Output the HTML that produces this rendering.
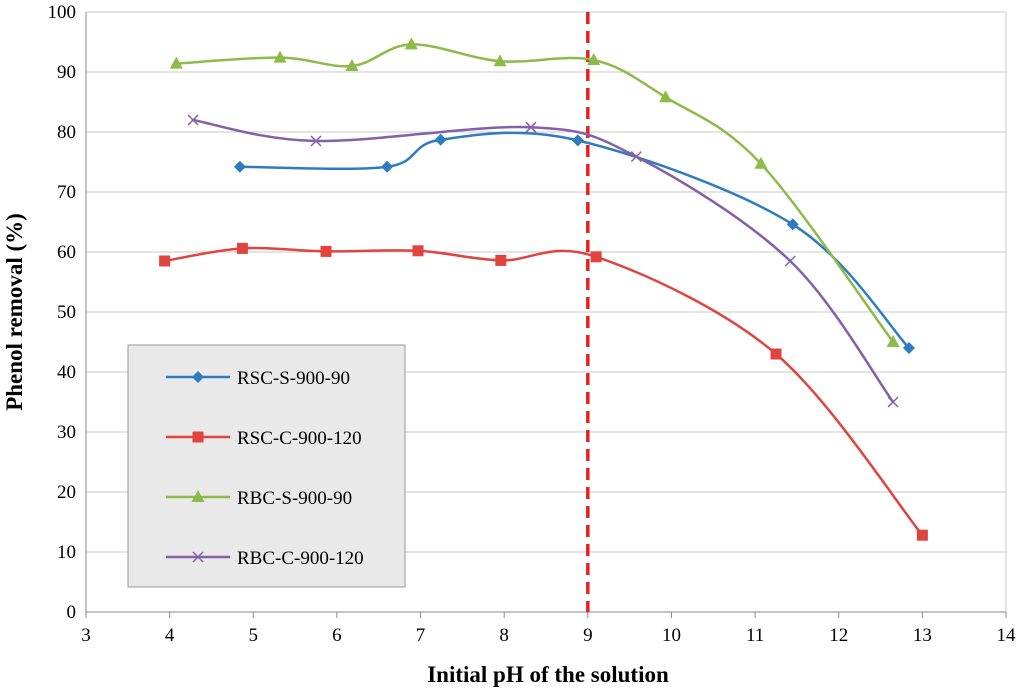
<!DOCTYPE html>
<html><head><meta charset="utf-8"><style>
body{margin:0;background:#fff}
svg text{font-family:"Liberation Serif",serif}
</style></head><body>
<svg id="chart" width="1024" height="692" xmlns="http://www.w3.org/2000/svg"></svg>
<script>
const xTicks=[3,4,5,6,7,8,9,10,11,12,13,14];
const yTicks=[0,10,20,30,40,50,60,70,80,90,100];
const rscSx=[4.84,6.6,7.24,8.88,11.45,12.84];
const rscSy=[74.2,74.2,78.7,78.6,64.6,44];
const rscCx=[3.94,4.87,5.87,6.97,7.96,9.1,11.25,13.0];
const rscCy=[58.5,60.6,60.1,60.2,58.6,59.2,43,12.8];
const rbcSx=[4.08,5.32,6.18,6.89,7.95,9.07,9.93,11.07,12.65];
const rbcSy=[91.4,92.4,91.0,94.6,91.8,92,85.8,74.7,45];
const rbcCx=[4.28,5.75,8.32,9.58,11.42,12.65];
const rbcCy=[82,78.5,80.8,75.9,58.5,35];
const seriesNames=["RSC-S-900-90","RSC-C-900-120","RBC-S-900-90","RBC-C-900-120"];
const NS="http://www.w3.org/2000/svg";
const svg=document.getElementById('chart');
const X0=86,X1=1006,Y0=612,Y1=12;
const sx=v=>X0+(v-3)/11*(X1-X0);
const sy=v=>Y0-v/100*(Y0-Y1);
function mk(t,a,p){const e=document.createElementNS(NS,t);for(const k in a)e.setAttribute(k,a[k]);(p||svg).appendChild(e);return e;}
yTicks.forEach(v=>{
 const l=mk('line',{x1:X0,x2:X1,y1:sy(v),y2:sy(v),stroke:v===0?'#888':'#c8c8c8','stroke-width':1});
 
 
 const t=mk('text',{x:X0-10,y:sy(v)+6,'text-anchor':'end','font-size':19});t.textContent=v;
 
 
});
mk('line',{x1:X0,x2:X0,y1:Y1,y2:Y0,stroke:'#888'});
mk('line',{x1:X1,x2:X1,y1:Y1,y2:Y0,stroke:'#c8c8c8'});
xTicks.forEach(v=>{
 mk('line',{x1:sx(v),x2:sx(v),y1:Y0,y2:Y0+6,stroke:'#888'});
 const t=mk('text',{x:sx(v),y:Y0+29,'text-anchor':'middle','font-size':19});t.textContent=v;
 
 
});
const xt=mk('text',{x:548,y:682,'text-anchor':'middle','font-size':23,'font-weight':'bold'});xt.textContent='Initial pH of the solution';


const yt=mk('text',{x:22,y:312,'text-anchor':'middle','font-size':23,'font-weight':'bold',transform:'rotate(-90 22 312)'});yt.textContent='Phenol removal (%)';


const vl=mk('line',{x1:sx(9),x2:sx(9),y1:Y1,y2:Y0,stroke:'#e8201e','stroke-width':3.5,'stroke-dasharray':'12,7'});


function smooth(xs,ys){const p=xs.map((x,i)=>[sx(x),sy(ys[i])]);let d='M'+p[0];
 for(let i=0;i<p.length-1;i++){const a=p[i-1]||p[i],b=p[i],c=p[i+1],e=p[i+2]||c;const t=0.5/3;
 d+=` C${b[0]+(c[0]-a[0])*t},${b[1]+(c[1]-a[1])*t} ${c[0]-(e[0]-b[0])*t},${c[1]-(e[1]-b[1])*t} ${c[0]},${c[1]}`;}return d;}
function marker(type,x,y,col,g){
 if(type==='d')return mk('polygon',{points:`${x},${y-6} ${x+6},${y} ${x},${y+6} ${x-6},${y}`,fill:col},g);
 if(type==='s')return mk('rect',{x:x-5.5,y:y-5.5,width:11,height:11,fill:col},g);
 if(type==='t')return mk('polygon',{points:`${x},${y-7} ${x+6.5},${y+5} ${x-6.5},${y+5}`,fill:col},g);
 const gg=mk('g',{},g);mk('line',{x1:x-5,y1:y-5,x2:x+5,y2:y+5,stroke:col,'stroke-width':1.5},gg);mk('line',{x1:x-5,y1:y+5,x2:x+5,y2:y-5,stroke:col,'stroke-width':1.5},gg);return gg;}
const S=[[rscSx,rscSy,'#2e7cc0','d','series-rsc-s-900-90'],[rscCx,rscCy,'#e0443e','s','series-rsc-c-900-120'],[rbcSx,rbcSy,'#8dbb4a','t','series-rbc-s-900-90'],[rbcCx,rbcCy,'#8560a8','x','series-rbc-c-900-120']];
S.forEach(([xs,ys,c,m,n])=>{const g=mk('g',{});
 
 
 mk('path',{d:smooth(xs,ys),fill:'none',stroke:c,'stroke-width':2.5},g);
 xs.forEach((x,i)=>{const mm=marker(m,sx(x),sy(ys[i]),c,g);
  
  });});
const lg=mk('g',{});


mk('rect',{x:128,y:345,width:277,height:242,fill:'#e9e9e9',stroke:'#999'},lg);
S.forEach(([xs,ys,c,m],i)=>{const y=377+i*60;const e=mk('g',{},lg);
 
 
 mk('line',{x1:166,x2:230,y1:y,y2:y,stroke:c,'stroke-width':2.5},e);marker(m,198,y,c,e);
 const t=mk('text',{x:237,y:y+7,'font-size':19},e);t.textContent=seriesNames[i];});
</script>
</body></html>
